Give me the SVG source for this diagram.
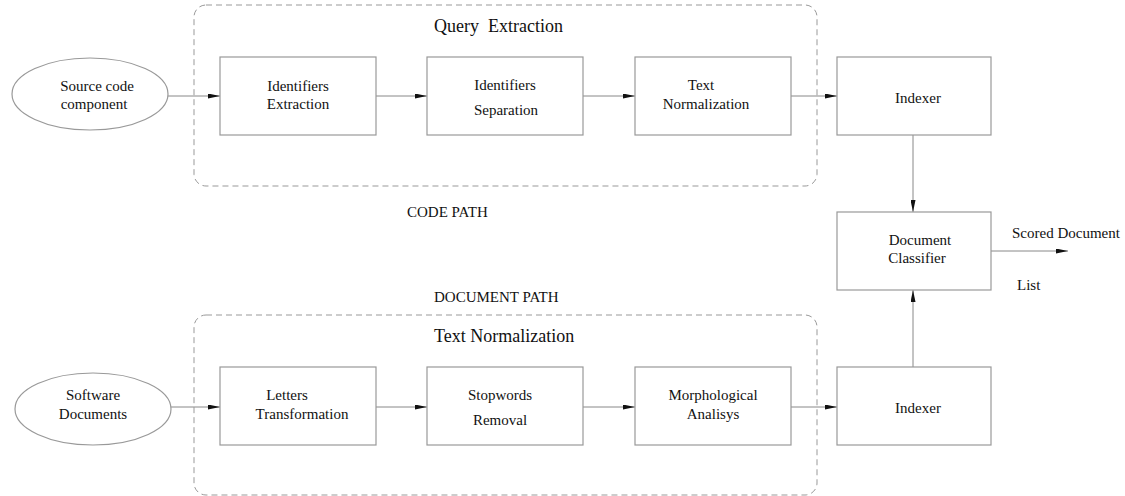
<svg xmlns="http://www.w3.org/2000/svg" width="1125" height="496" viewBox="0 0 1125 496">
<style>
text{font-family:"Liberation Serif","Times New Roman",serif;fill:#111;font-size:15px;text-anchor:middle}
.box{fill:#fff;stroke:#999;stroke-width:1.2}
.grp{fill:none;stroke:#999;stroke-width:1;stroke-dasharray:6,4}
.title{font-size:18px;text-anchor:start}
.lbl{text-anchor:start}
.conn{stroke:#888;stroke-width:1;fill:none;marker-end:url(#ah)}
</style>
<defs>
<marker id="ah" viewBox="0 0 10 10" refX="10" refY="5" markerWidth="12" markerHeight="5" markerUnits="userSpaceOnUse" orient="auto-start-reverse" preserveAspectRatio="none">
<path d="M0,0 L10,5 L0,10 Z" fill="#111"/>
</marker>
</defs>
<rect width="1125" height="496" fill="#fff"/>
<g id="group-query">
<rect class="grp" x="194" y="5" width="623" height="181" rx="12"/>
<text class="title" x="434" y="32">Query&#160; Extraction</text>
</g>
<g id="group-textnorm">
<rect class="grp" x="194" y="315" width="623" height="180" rx="12"/>
<text class="title" x="434" y="342">Text Normalization</text>
</g>
<g id="label-code"><text class="lbl" x="407" y="217">CODE PATH</text></g>
<g id="label-doc"><text class="lbl" x="434" y="302">DOCUMENT PATH</text></g>
<g id="label-scored"><text class="lbl" x="1012" y="238">Scored Document</text><text class="lbl" x="1017" y="290">List</text></g>
<g id="connectors">
<line class="conn" x1="168" y1="96" x2="220" y2="96"/>
<line class="conn" x1="376" y1="96" x2="427" y2="96"/>
<line class="conn" x1="583" y1="96" x2="635" y2="96"/>
<line class="conn" x1="791" y1="96" x2="837" y2="96"/>
<line class="conn" x1="913" y1="135" x2="913" y2="212"/>
<line class="conn" x1="991" y1="251" x2="1068" y2="251"/>
<line class="conn" x1="171" y1="407" x2="220" y2="407"/>
<line class="conn" x1="376" y1="407" x2="427" y2="407"/>
<line class="conn" x1="583" y1="407" x2="635" y2="407"/>
<line class="conn" x1="791" y1="407" x2="837" y2="407"/>
<line class="conn" x1="913" y1="367" x2="913" y2="290"/>
</g>
<g id="source-code">
<ellipse class="box" cx="90" cy="94" rx="78" ry="36"/>
<text x="97" y="91">Source code</text><text x="94" y="109">component</text>
</g>
<g id="ident-extraction">
<rect class="box" x="220" y="57" width="156" height="78"/>
<text x="298" y="91">Identifiers</text><text x="298" y="109">Extraction</text>
</g>
<g id="ident-separation">
<rect class="box" x="427" y="57" width="156" height="78"/>
<text x="505" y="90">Identifiers</text><text x="506" y="115">Separation</text>
</g>
<g id="text-normalization">
<rect class="box" x="635" y="57" width="156" height="78"/>
<text x="701" y="90">Text</text><text x="706" y="109">Normalization</text>
</g>
<g id="indexer-top">
<rect class="box" x="837" y="57" width="154" height="78"/>
<text x="918" y="103">Indexer</text>
</g>
<g id="doc-classifier">
<rect class="box" x="837" y="212" width="154" height="78"/>
<text x="920" y="245">Document</text><text x="917" y="263">Classifier</text>
</g>
<g id="software-docs">
<ellipse class="box" cx="93" cy="409" rx="78" ry="36"/>
<text x="93" y="400">Software</text><text x="93" y="419">Documents</text>
</g>
<g id="letters-transformation">
<rect class="box" x="220" y="367" width="156" height="78"/>
<text x="287" y="400">Letters</text><text x="302" y="419">Transformation</text>
</g>
<g id="stopwords-removal">
<rect class="box" x="427" y="367" width="156" height="78"/>
<text x="500" y="400">Stopwords</text><text x="500" y="425">Removal</text>
</g>
<g id="morph-analysis">
<rect class="box" x="635" y="367" width="156" height="78"/>
<text x="713" y="400">Morphological</text><text x="713" y="419">Analisys</text>
</g>
<g id="indexer-bottom">
<rect class="box" x="837" y="367" width="154" height="78"/>
<text x="918" y="413">Indexer</text>
</g>
</svg>
